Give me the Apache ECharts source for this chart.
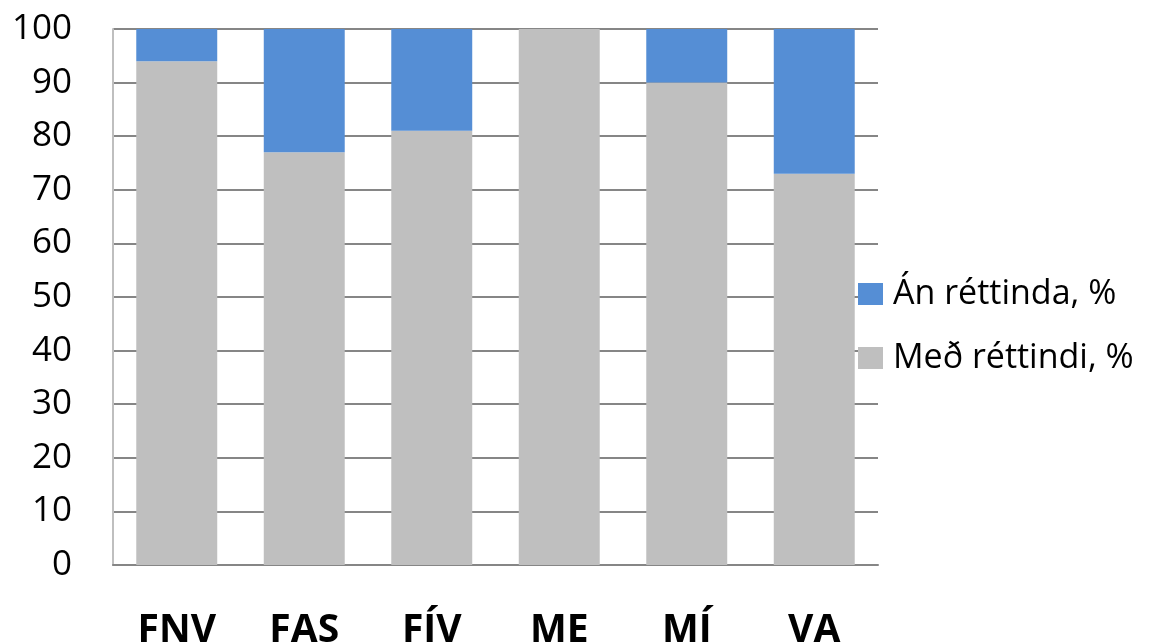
<!DOCTYPE html>
<html>
<head>
<meta charset="utf-8">
<script src="https://cdn.jsdelivr.net/npm/echarts@6/dist/echarts.min.js"></script>
<style>html,body{margin:0;padding:0;background:#fff}#c{width:1163px;height:642px}</style>
</head>
<body>
<div id="c"></div>
<script>
const categories = ['FNV', 'FAS', 'FÍV', 'ME', 'MÍ', 'VA'];
const medRettindi = [94, 77, 81, 100, 90, 73];
const anRettinda = [6, 23, 19, 0, 10, 27];
const yTicks = [0, 10, 20, 30, 40, 50, 60, 70, 80, 90, 100];

const chart = echarts.init(document.getElementById('c'));
const font = '"Open Sans", "Noto Sans", "Liberation Sans", sans-serif';
chart.setOption({
  animation: false,
  textStyle: { fontFamily: font },
  grid: { left: 113, right: 285, top: 29, bottom: 77, containLabel: false, outerBoundsMode: 'none' },
  legend: {
    orient: 'vertical',
    left: 853,
    top: 272,
    itemWidth: 25,
    itemHeight: 22,
    itemGap: 30,
    icon: 'rect',
    data: ['Án réttinda, %', 'Með réttindi, %'],
    textStyle: { fontSize: 34, lineHeight: 34, color: '#000', fontFamily: font, padding: [0, 0, 0, 5] }
  },
  xAxis: {
    type: 'category',
    data: categories,
    axisTick: { show: false },
    axisLine: { lineStyle: { color: '#868686', width: 2 } },
    axisLabel: { fontSize: 39, fontWeight: 'bold', color: '#000', margin: 46, fontFamily: font }
  },
  yAxis: {
    type: 'value',
    min: yTicks[0],
    max: yTicks[yTicks.length - 1],
    interval: 10,
    axisLine: { show: true, lineStyle: { color: '#bfbfbf', width: 2 } },
    axisTick: { show: false },
    splitLine: { lineStyle: { color: '#868686', width: 2 } },
    axisLabel: { fontSize: 35, color: '#000', margin: 41, fontFamily: font }
  },
  series: [
    {
      name: 'Með réttindi, %',
      type: 'bar',
      stack: 's',
      data: medRettindi,
      barCategoryGap: '36.5%',
      itemStyle: { color: '#BFBFBF' }
    },
    {
      name: 'Án réttinda, %',
      type: 'bar',
      stack: 's',
      data: anRettinda,
      barCategoryGap: '36.5%',
      itemStyle: { color: '#558ED5' }
    }
  ]
});
</script>
</body>
</html>
